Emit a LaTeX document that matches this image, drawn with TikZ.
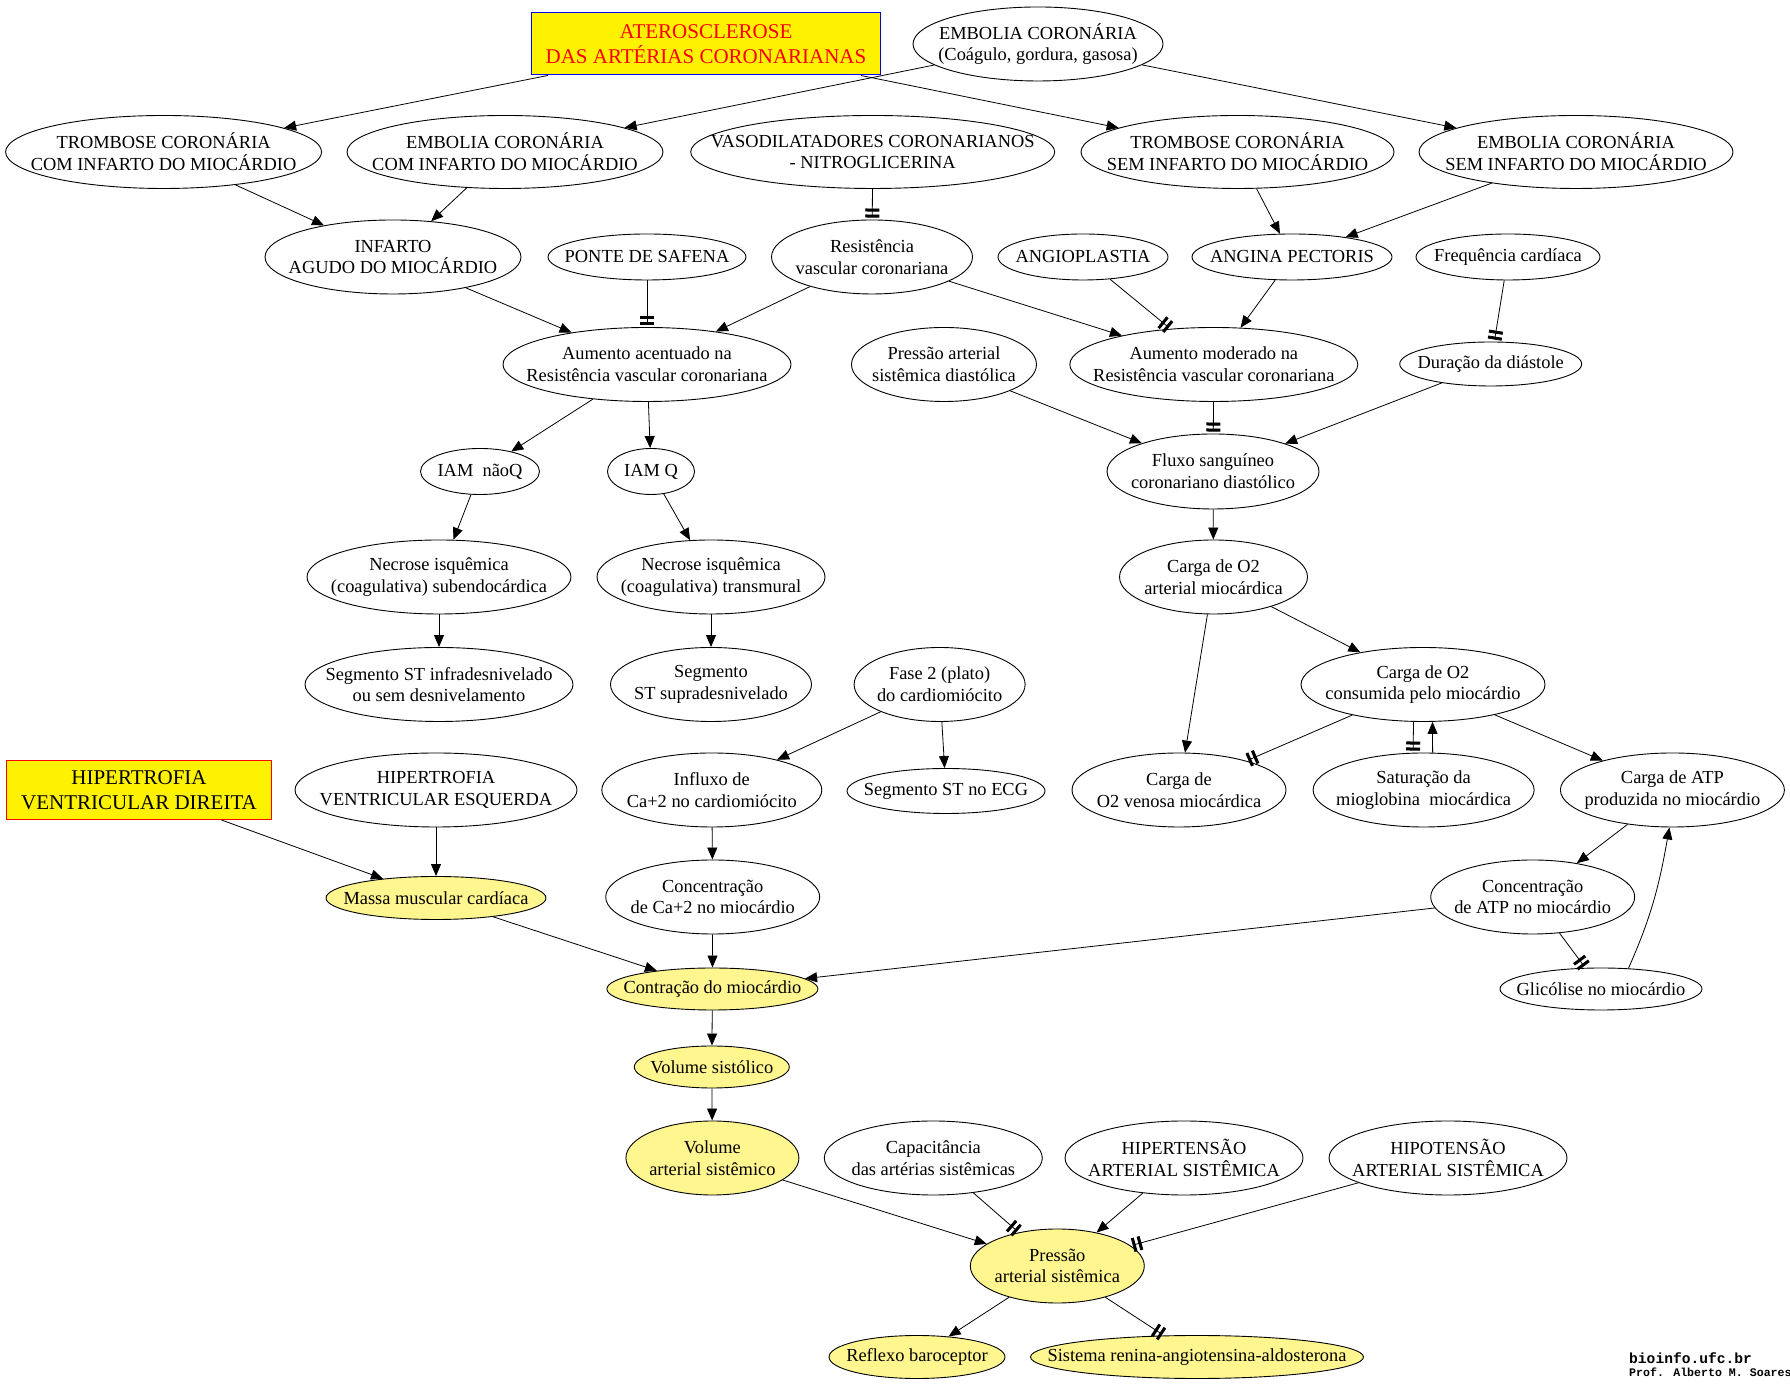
\documentclass[tikz,border=0pt]{standalone}
\usepackage{fontspec}
\setmainfont{Liberation Serif}
\newfontfamily\mono{Liberation Mono}
\usetikzlibrary{arrows.meta,shapes.geometric}
\definecolor{amarelo}{HTML}{FFF68F}

\begin{document}
\begin{tikzpicture}[x=1pt,y=1pt,
  no/.style={ellipse,draw,line width=0.9pt,align=center,inner xsep=-170pt,inner ysep=-40pt,
    font={\fontsize{18.4}{21.7}\selectfont}},
  noam/.style={no,fill=amarelo},
  caixa/.style={rectangle,draw,fill=yellow,line width=1pt,inner sep=0pt,align=center,
    font={\fontsize{21}{25}\selectfont}},
  seta/.style={line width=0.8pt,-{Triangle[length=12pt,width=10pt]}},
  trava/.style={line width=0.8pt,-{Rectangle[length=3pt,width=14pt,sep=3pt]Rectangle[length=3pt,width=14pt,sep=2pt]}}]

\useasboundingbox (0,0) rectangle (1790,1386);

% linha 1
\node[caixa,draw=blue,text=red,minimum width=349pt,minimum height=62pt] (atero) at (706,1342) {ATEROSCLEROSE\\DAS ARTÉRIAS CORONARIANAS};
\node[no,minimum width=250pt,minimum height=74pt] (emboliaCoag) at (1038,1342) {EMBOLIA CORONÁRIA\\(Coágulo, gordura, gasosa)};

% linha 2
\node[no,minimum width=316pt,minimum height=73pt] (tromboseCom) at (163.6,1234) {TROMBOSE CORONÁRIA\\COM INFARTO DO MIOCÁRDIO};
\node[no,minimum width=316pt,minimum height=73pt] (emboliaCom) at (505,1234) {EMBOLIA CORONÁRIA\\COM INFARTO DO MIOCÁRDIO};
\node[no,minimum width=364pt,minimum height=73pt] (vasodil) at (872.7,1234) {VASODILATADORES CORONARIANOS\\- NITROGLICERINA};
\node[no,minimum width=313pt,minimum height=73pt] (tromboseSem) at (1237.5,1234) {TROMBOSE CORONÁRIA\\SEM INFARTO DO MIOCÁRDIO};
\node[no,minimum width=314pt,minimum height=73pt] (emboliaSem) at (1576,1234) {EMBOLIA CORONÁRIA\\SEM INFARTO DO MIOCÁRDIO};

% linha 3
\node[no,minimum width=256pt,minimum height=74pt] (infarto) at (393,1129) {INFARTO\\AGUDO DO MIOCÁRDIO};
\node[no,minimum width=198pt,minimum height=46pt] (ponte) at (647,1129) {PONTE DE SAFENA};
\node[no,minimum width=201pt,minimum height=74pt] (resist) at (872,1129) {Resistência\\vascular coronariana};
\node[no,minimum width=170pt,minimum height=46pt] (angio) at (1083,1129) {ANGIOPLASTIA};
\node[no,minimum width=200pt,minimum height=46pt] (angina) at (1292,1129) {ANGINA PECTORIS};
\node[no,minimum width=184pt,minimum height=46pt] (freq) at (1508,1129) {Frequência cardíaca};

% linha 4
\node[no,minimum width=288pt,minimum height=74pt] (aumAcent) at (647,1021.5) {Aumento acentuado na\\Resistência vascular coronariana};
\node[no,minimum width=185pt,minimum height=74pt] (pressDiast) at (944,1021.5) {Pressão arterial\\sistêmica diastólica};
\node[no,minimum width=288pt,minimum height=74pt] (aumMod) at (1213.8,1021.5) {Aumento moderado na\\Resistência vascular coronariana};
\node[no,minimum width=182pt,minimum height=44pt] (duracao) at (1490.7,1022) {Duração da diástole};

% linha 5
\node[no,minimum width=119pt,minimum height=46pt] (iamNaoQ) at (480,914.5) {IAM\ \ nãoQ};
\node[no,minimum width=87pt,minimum height=46pt] (iamQ) at (651,914.5) {IAM Q};
\node[no,minimum width=212pt,minimum height=75pt] (fluxo) at (1213,914.5) {Fluxo sanguíneo\\coronariano diastólico};

% linha 6
\node[no,minimum width=264pt,minimum height=74pt] (necroseSub) at (439,809) {Necrose isquêmica\\(coagulativa) subendocárdica};
\node[no,minimum width=228pt,minimum height=74pt] (necroseTrans) at (711,809) {Necrose isquêmica\\(coagulativa) transmural};
\node[no,minimum width=188pt,minimum height=74pt] (cargaArt) at (1213.5,809) {Carga de O2\\arterial miocárdica};

% linha 7
\node[no,minimum width=268pt,minimum height=74pt] (segInfra) at (439,701.5) {Segmento ST infradesnivelado\\ou sem desnivelamento};
\node[no,minimum width=201pt,minimum height=74pt] (segSupra) at (711,701.5) {Segmento\\ST supradesnivelado};
\node[no,minimum width=171pt,minimum height=74pt] (fase2) at (939.6,701.5) {Fase 2 (plato)\\do cardiomiócito};
\node[no,minimum width=244pt,minimum height=74pt] (cargaCons) at (1423,701.5) {Carga de O2\\consumida pelo miocárdio};

% linha 8
\node[caixa,draw=red,minimum width=265pt,minimum height=59pt] (hipDir) at (139,596) {HIPERTROFIA\\VENTRICULAR DIREITA};
\node[no,minimum width=282pt,minimum height=74pt] (hipEsq) at (436,596) {HIPERTROFIA\\VENTRICULAR ESQUERDA};
\node[no,minimum width=220pt,minimum height=74pt] (influxo) at (711.8,596) {Influxo de\\Ca+2 no cardiomiócito};
\node[no,minimum width=198pt,minimum height=45pt] (segECG) at (946,595) {Segmento ST no ECG};
\node[no,minimum width=214pt,minimum height=74pt] (cargaVen) at (1179,596) {Carga de\\O2 venosa miocárdica};
\node[no,minimum width=221pt,minimum height=74pt] (saturacao) at (1423.6,596) {Saturação da\\mioglobina\ \ miocárdica};
\node[no,minimum width=224pt,minimum height=74pt] (cargaATP) at (1672.4,596) {Carga de ATP\\produzida no miocárdio};

% linha 9
\node[noam,minimum width=220pt,minimum height=43pt] (massa) at (436,488) {Massa muscular cardíaca};
\node[no,minimum width=214pt,minimum height=74pt] (concCa) at (712.7,489) {Concentração\\de Ca+2 no miocárdio};
\node[no,minimum width=204pt,minimum height=74pt] (concATP) at (1532.7,489) {Concentração\\de ATP no miocárdio};

% linhas 10 a 13
\node[noam,minimum width=211pt,minimum height=42pt] (contracao) at (712.4,397) {Contração do miocárdio};
\node[no,minimum width=202pt,minimum height=42pt] (glicolise) at (1601,397) {Glicólise no miocárdio};
\node[noam,minimum width=155pt,minimum height=42pt] (volSist) at (711.8,319) {Volume sistólico};
\node[noam,minimum width=173pt,minimum height=74pt] (volArt) at (712.4,228) {Volume\\arterial sistêmico};
\node[no,minimum width=218pt,minimum height=74pt] (capacit) at (933.3,228) {Capacitância\\das artérias sistêmicas};
\node[no,minimum width=238pt,minimum height=74pt] (hipertensao) at (1184,228) {HIPERTENSÃO\\ARTERIAL SISTÊMICA};
\node[no,minimum width=238pt,minimum height=74pt] (hipotensao) at (1448,228) {HIPOTENSÃO\\ARTERIAL SISTÊMICA};
\node[noam,minimum width=174pt,minimum height=74pt] (pressaoSist) at (1057.3,120) {Pressão\\arterial sistêmica};
\node[noam,minimum width=176pt,minimum height=43pt] (reflexo) at (917,29) {Reflexo baroceptor};
\node[noam,minimum width=333pt,minimum height=43pt] (renina) at (1197,29) {Sistema renina-angiotensina-aldosterona};

% creditos
\node[anchor=base west,inner sep=0pt,font={\mono\bfseries\fontsize{14.6}{15}\selectfont}] (site) at (1629,22) {bioinfo.ufc.br};
\node[anchor=base west,inner sep=0pt,font={\mono\bfseries\fontsize{11.6}{12}\selectfont}] (autor) at (1629,9.5) {Prof. Alberto M. Soares};

% ligacoes
\draw[seta] (atero) -- (tromboseCom);
\draw[seta] (atero) -- (tromboseSem);
\draw[seta] (emboliaCoag) -- (emboliaCom);
\draw[seta] (emboliaCoag) -- (emboliaSem);
\draw[seta] (tromboseCom) -- (infarto);
\draw[seta] (emboliaCom) -- (infarto);
\draw[trava] (vasodil) -- (resist);
\draw[seta] (tromboseSem) -- (angina);
\draw[seta] (emboliaSem) -- (angina);
\draw[seta] (infarto) -- (aumAcent);
\draw[trava] (ponte) -- (aumAcent);
\draw[seta] (resist) -- (aumAcent);
\draw[seta] (resist) -- (aumMod);
\draw[trava] (angio) -- (aumMod);
\draw[seta] (angina) -- (aumMod);
\draw[trava] (freq) -- (duracao);
\draw[seta] (aumAcent) -- (iamNaoQ);
\draw[seta] (aumAcent) -- (iamQ);
\draw[trava] (aumMod) -- (fluxo);
\draw[seta] (pressDiast) -- (fluxo);
\draw[seta] (duracao) -- (fluxo);
\draw[seta] (iamNaoQ) -- (necroseSub);
\draw[seta] (iamQ) -- (necroseTrans);
\draw[seta] (necroseSub) -- (segInfra);
\draw[seta] (necroseTrans) -- (segSupra);
\draw[seta] (fluxo) -- (cargaArt);
\draw[seta] (cargaArt) -- (cargaVen);
\draw[seta] (cargaArt) -- (cargaCons);
\draw[trava] (cargaCons) -- (cargaVen);
\draw[trava] ([xshift=-9.5pt]cargaCons.south) -- ([xshift=-10.5pt]saturacao.north);
\draw[seta] ([xshift=9pt]saturacao.north) -- ([xshift=9.5pt]cargaCons.south);
\draw[seta] (cargaCons) -- (cargaATP);
\draw[seta] (fase2) -- (influxo);
\draw[seta] (fase2) -- (segECG);
\draw[seta] (influxo) -- (concCa);
\draw[seta] (hipDir) -- (massa);
\draw[seta] (hipEsq) -- (massa);
\draw[seta] (massa) -- (contracao);
\draw[seta] (concCa) -- (contracao);
\draw[seta] (cargaATP) -- (concATP);
\draw[seta] (concATP) -- (contracao);
\draw[trava] (concATP) -- (glicolise);
\draw[seta] (glicolise.37) to[out=66,in=-100] ([xshift=-3pt]cargaATP.south);
\draw[seta] (contracao) -- (volSist);
\draw[seta] (volSist) -- (volArt);
\draw[seta] (volArt) -- (pressaoSist);
\draw[trava] (capacit) -- (pressaoSist);
\draw[seta] (hipertensao) -- (pressaoSist);
\draw[trava] (hipotensao) -- (pressaoSist);
\draw[seta] (pressaoSist) -- (reflexo);
\draw[trava] (pressaoSist) -- (renina);

\end{tikzpicture}
\end{document}
